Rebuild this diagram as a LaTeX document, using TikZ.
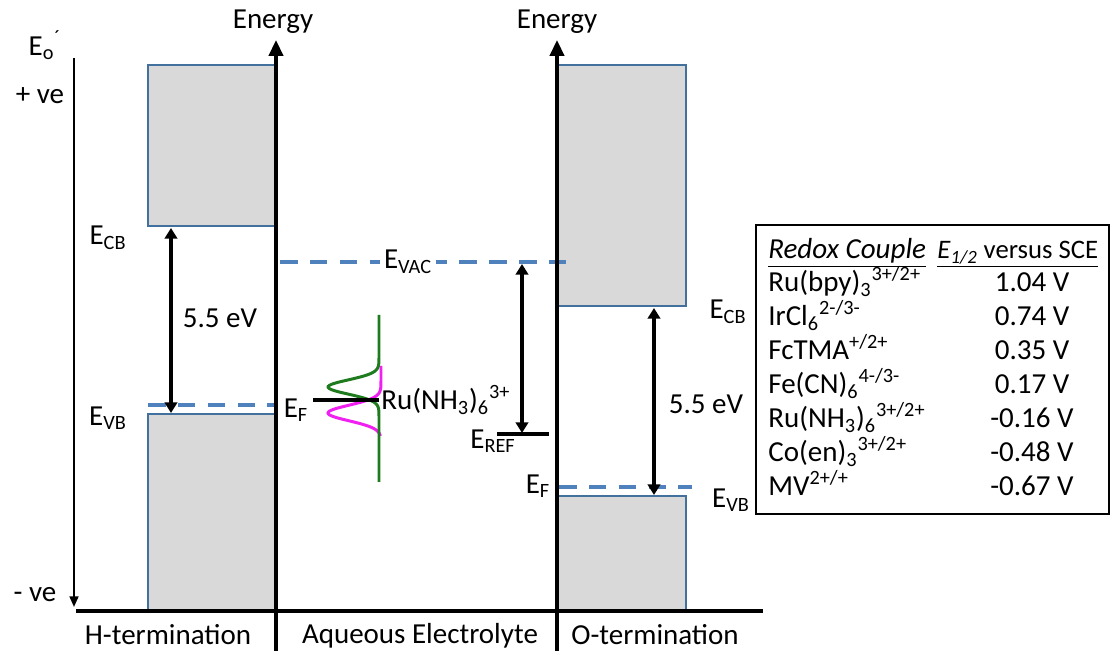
\documentclass[tikz,border=0pt]{standalone}
\usepackage{fontspec}
\setmainfont{Carlito}
\usepackage{xcolor}
\usetikzlibrary{calc,arrows.meta,positioning}
\definecolor{bandblue}{HTML}{41719C}
\definecolor{levelblue}{HTML}{4F81BD}
\definecolor{bandgray}{HTML}{D9D9D9}
\definecolor{dosgreen}{HTML}{1E7B1E}
\definecolor{dosmagenta}{HTML}{F020F0}

\begin{document}
\begin{tikzpicture}[x=0.02cm,y=-0.02cm,
  font=\fontsize{16.5}{19.3}\selectfont,
  axis/.style={line width=2pt},
  band/.style={draw=bandblue,line width=1.3pt},
  fermi/.style={levelblue,line width=2.2pt,dash pattern=on 10pt off 7pt},
  gap/.style={line width=1.8pt,{Triangle[length=6pt,width=7pt]}-{Triangle[length=6pt,width=7pt]}}]
\useasboundingbox (0,0) rectangle (1112,651);
% bands, H-termination
\fill[bandgray] (148,65) rectangle (276,226);
\fill[bandgray] (148,414) rectangle (276,611);
\draw[band] (276,65) -- (148,65) -- (148,226) -- (276,226);
\draw[band] (276,414) -- (148,414) -- (148,611);
% bands, O-termination
\fill[bandgray] (557,65) rectangle (686,306);
\fill[bandgray] (557,496) rectangle (686,611);
\draw[band] (557,65) -- (686,65) -- (686,306) -- (557,306);
\draw[band] (557,496) -- (686,496) -- (686,611);
% levels
\draw[fermi] (148,405) -- (276,405);
\draw[fermi] (280,262) -- (574,262);
\draw[fermi] (559,487) -- (692,487);
\draw[line width=1.8pt] (497,434) -- (549,434);
% density of states
\draw[dosmagenta,line width=1.7pt] plot[domain=366:436,samples=80,smooth]
  ({381-53*exp(-((\x-413)/11)*((\x-413)/11))},\x);
\draw[dosgreen,line width=1.7pt] plot[domain=315:482,samples=160,smooth]
  ({379-51*exp(-((\x-387)/10)*((\x-387)/10))},\x);
\draw[line width=1.8pt] (313,400) -- (379,400);
% axes
\draw[axis] (76,611) -- (763,611);
\draw[axis,-{Triangle[length=9pt,width=8pt]}] (276,651) -- (276,40);
\draw[axis,-{Triangle[length=9pt,width=8pt]}] (557,651) -- (557,40);
\draw[line width=1.1pt,-{Triangle[length=6pt,width=5pt]}] (74,58) -- (74,607);
% gaps
\coordinate (HCB) at (171,228);
\coordinate (HVB) at (171,413);
\coordinate (OCB) at (654,308);
\coordinate (OVB) at (654,495);
\coordinate (VAC) at (522,264);
\coordinate (REF) at (522,433);
\draw[gap] (HCB) -- (HVB);
\draw[gap] (OCB) -- (OVB);
\draw[gap] (VAC) -- (REF);
% labels
\node (Eo) at (45,45) {E\textsubscript{o}\textsuperscript{´}};
\node (plus) at (40,96) {+ ve};
\node (minus) at (35,595) {- ve};
\node (en1) at (273,22) {Energy};
\node (en2) at (557,22) {Energy};
\node (hcb) at (108,238) {E\textsubscript{CB}};
\node (hvb) at (108,418) {E\textsubscript{VB}};
\node (hgap) at (220,318) {5.5 eV};
\node (hef) at (296,410) {E\textsubscript{F}};
\node[fill=white,inner sep=2pt] (evac) at (408,262) {E\textsubscript{VAC}};
\node[anchor=west,inner sep=0pt] (ru) at (381,400) {Ru(NH\textsubscript{3})\textsubscript{6}\textsuperscript{3+}};
\node (eref) at (493,441) {E\textsubscript{REF}};
\node (oef) at (538,486) {E\textsubscript{F}};
\node (ocb) at (728,312) {E\textsubscript{CB}};
\node (ovb) at (731,500) {E\textsubscript{VB}};
\node (ogap) at (706,404) {5.5 eV};
\node (hterm) at (168,635) {H-termination};
\node (aq) at (420,636) {Aqueous Electrolyte};
\node (oterm) at (655,635) {O-termination};
% redox table
\draw[line width=1.1pt] (756,225) rectangle (1109,514);
\node[anchor=base west,inner sep=0pt] (hdr1) at (768,259) {\underline{\textit{Redox Couple}}};
\node[anchor=base west,inner sep=0pt,font=\fontsize{15.2}{18}\selectfont] (hdr2) at (937,259) {\underline{\textit{E}\textsubscript{\textit{1/2}} versus SCE}};
\foreach \cpl/\pot [count=\i] in {
  {Ru(bpy)\textsubscript{3}\textsuperscript{3+/2+}}/{1.04 V},
  {IrCl\textsubscript{6}\textsuperscript{2-/3-}}/{0.74 V},
  {FcTMA\textsuperscript{+/2+}}/{0.35 V},
  {Fe(CN)\textsubscript{6}\textsuperscript{4-/3-}}/{0.17 V},
  {Ru(NH\textsubscript{3})\textsubscript{6}\textsuperscript{3+/2+}}/{-0.16 V},
  {Co(en)\textsubscript{3}\textsuperscript{3+/2+}}/{-0.48 V},
  {MV\textsuperscript{2+/+}}/{-0.67 V}}
{
  \node[anchor=base west,inner sep=0pt] (cpl\i) at (768,{292+34*(\i-1)}) {\cpl};
  \node[anchor=base] (pot\i) at (1032,{292+34*(\i-1)}) {\pot};
}
\end{tikzpicture}
\end{document}
